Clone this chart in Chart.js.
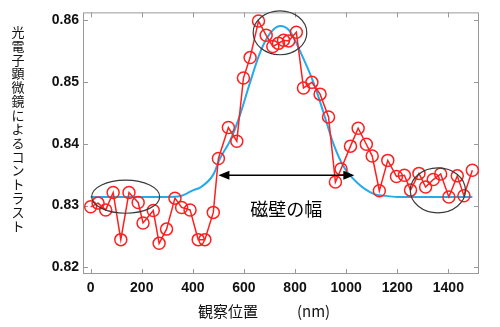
<!DOCTYPE html>
<html>
<head>
<meta charset="utf-8">
<script src="https://cdn.jsdelivr.net/npm/chart.js@4.4.0/dist/chart.umd.min.js"></script>
<style>
    html, body { margin: 0; padding: 0; background: #fff; }
    canvas { display: block; }
</style>
</head>
<body>
<canvas id="profileChart" width="500" height="327"></canvas>
<script>
// Measured contrast along the line scan (red circles)
const scanPos = [0, 29, 59, 88, 118, 150, 186, 205, 245, 268, 297, 330, 356, 389, 421, 447, 480, 500, 539, 572,
    598, 624, 657, 687, 713, 735, 755, 775, 805, 833, 866, 898, 931, 958, 980, 1017, 1047, 1079, 1102, 1130,
    1163, 1197, 1228, 1252, 1285, 1311, 1341, 1370, 1402, 1435, 1461, 1494];
const scanContrast = [0.8298, 0.8304, 0.8293, 0.8321, 0.8245, 0.8321, 0.8305, 0.8272, 0.8292, 0.8239, 0.8262, 0.8312,
    0.8297, 0.8293, 0.8245, 0.8245, 0.8289, 0.8376, 0.8426, 0.8404, 0.8506, 0.8539, 0.8598, 0.8575, 0.8557,
    0.8562, 0.8567, 0.8566, 0.8580, 0.8490, 0.8499, 0.8480, 0.8443, 0.8338, 0.8359, 0.8396, 0.8425, 0.8399,
    0.8380, 0.8324, 0.8373, 0.8347, 0.8349, 0.8325, 0.8352, 0.8330, 0.8342, 0.8351, 0.8314, 0.8348, 0.8316, 0.8357];

// Fitted wall profile (blue curve)
const fitPos = [0, 100, 200, 300, 349, 402, 428, 480, 506, 546, 585, 624, 663, 702, 742, 781, 820, 872, 910, 950,
    990, 1043, 1108, 1150, 1200, 1300, 1400, 1494];
const fitContrast = [0.8314, 0.8314, 0.8314, 0.8314, 0.8315, 0.8325, 0.8329, 0.8350, 0.8376, 0.8405, 0.8447, 0.8499,
    0.8547, 0.8578, 0.8590, 0.8581, 0.8549, 0.8499, 0.8452, 0.8400, 0.8363, 0.8337, 0.8319, 0.8316, 0.8314,
    0.8314, 0.8314, 0.8314];

const xTickValues = [0, 200, 400, 600, 800, 1000, 1200, 1400];
const yTickValues = [0.82, 0.83, 0.84, 0.85, 0.86];

const yTitle = '光電子顕微鏡によるコントラスト';
const xTitle = '観察位置';
const xUnit = '(nm)';
const wallLabel = '磁壁の幅';

// ellipses drawn round the interesting spots (data units)
const marks = [
    { x: 137, y: 0.83144, rx: 133, ry: 0.00268 },
    { x: 741, y: 0.8579, rx: 105, ry: 0.00354 },
    { x: 1359, y: 0.83246, rx: 108, ry: 0.00364 }
];
const wallArrow = { from: 500, to: 1032, y: 0.8349 };

const tickFont = { family: '"Liberation Sans", Arial, sans-serif', size: 14, weight: 'bold' };
const cjkFont = '"Noto Sans CJK JP", "Noto Sans", sans-serif';

const decorations = {
    id: 'decorations',
    beforeDatasetsDraw(chart) {
        const { ctx, chartArea: a, scales: { x, y } } = chart;
        ctx.save();
        ctx.strokeStyle = '#999';
        ctx.lineWidth = 1;
        ctx.strokeRect(a.left + 0.5, a.top + 0.5, a.right - a.left - 1, a.bottom - a.top - 1);
        ctx.beginPath();
        xTickValues.forEach(v => {
            const px = Math.round(x.getPixelForValue(v)) + 0.5;
            ctx.moveTo(px, a.bottom); ctx.lineTo(px, a.bottom - 5);
            ctx.moveTo(px, a.top); ctx.lineTo(px, a.top + 5);
        });
        yTickValues.forEach(v => {
            const py = Math.round(y.getPixelForValue(v)) + 0.5;
            ctx.moveTo(a.left, py); ctx.lineTo(a.left + 5, py);
            ctx.moveTo(a.right, py); ctx.lineTo(a.right - 5, py);
        });
        ctx.stroke();
        ctx.restore();
    },
    afterDatasetsDraw(chart) {
        const { ctx, scales: { x, y } } = chart;
        ctx.save();
        // ellipses
        ctx.strokeStyle = '#3a3a3a';
        ctx.lineWidth = 1.2;
        marks.forEach(m => {
            const cx = x.getPixelForValue(m.x);
            const cy = y.getPixelForValue(m.y);
            const rx = Math.abs(x.getPixelForValue(m.x + m.rx) - cx);
            const ry = Math.abs(y.getPixelForValue(m.y + m.ry) - cy);
            ctx.beginPath();
            ctx.ellipse(cx, cy, rx, ry, 0, 0, Math.PI * 2);
            ctx.stroke();
        });
        // double headed arrow for the wall width
        const x1 = x.getPixelForValue(wallArrow.from);
        const x2 = x.getPixelForValue(wallArrow.to);
        const ay = y.getPixelForValue(wallArrow.y);
        ctx.strokeStyle = '#000';
        ctx.fillStyle = '#000';
        ctx.lineWidth = 1.5;
        ctx.beginPath();
        ctx.moveTo(x1 + 8, ay); ctx.lineTo(x2 - 8, ay);
        ctx.stroke();
        ctx.beginPath();
        ctx.moveTo(x1, ay); ctx.lineTo(x1 + 11, ay - 4.5); ctx.lineTo(x1 + 11, ay + 4.5); ctx.closePath();
        ctx.moveTo(x2, ay); ctx.lineTo(x2 - 11, ay - 4.5); ctx.lineTo(x2 - 11, ay + 4.5); ctx.closePath();
        ctx.fill();
        ctx.font = '18px ' + cjkFont;
        ctx.textAlign = 'center';
        ctx.textBaseline = 'middle';
        ctx.fillText(wallLabel, (x1 + x2) / 2, ay + 34);
        ctx.restore();
    },
    afterDraw(chart) {
        const { ctx, chartArea: a } = chart;
        ctx.save();
        ctx.fillStyle = '#111';
        ctx.textAlign = 'center';
        ctx.textBaseline = 'middle';
        // y title, one character per line
        ctx.font = '13px ' + cjkFont;
        Array.from(yTitle).forEach((ch, i) => {
            ctx.fillText(ch, 18, 32 + i * 13.85);
        });
        // x title
        ctx.font = '15px ' + cjkFont;
        ctx.textAlign = 'left';
        ctx.fillText(xTitle, 198, a.bottom + 37);
        ctx.fillText(xUnit, 297, a.bottom + 37);
        ctx.restore();
    }
};

const ctx = document.getElementById('profileChart').getContext('2d');
new Chart(ctx, {
    type: 'scatter',
    data: {
        datasets: [
            {
                label: 'measured',
                data: scanPos.map((p, i) => ({ x: p, y: scanContrast[i] })),
                showLine: true,
                borderColor: '#ff1f1f',
                borderWidth: 1.5,
                pointRadius: 6,
                pointHoverRadius: 6,
                pointBorderWidth: 1.5,
                pointBorderColor: '#ff1f1f',
                pointBackgroundColor: 'rgba(0,0,0,0)',
                tension: 0
            },
            {
                label: 'fit',
                data: fitPos.map((p, i) => ({ x: p, y: fitContrast[i] })),
                showLine: true,
                borderColor: '#25aaea',
                borderWidth: 2,
                pointRadius: 0,
                cubicInterpolationMode: 'monotone'
            }
        ]
    },
    options: {
        responsive: false,
        devicePixelRatio: 1,
        animation: false,
        layout: { padding: { top: 5, right: 21, left: 0, bottom: 0 } },
        plugins: {
            legend: { display: false },
            tooltip: { enabled: false }
        },
        scales: {
            x: {
                type: 'linear',
                min: -30,
                max: 1520,
                afterFit: scale => { scale.height = 53; },
                afterBuildTicks: scale => { scale.ticks = xTickValues.map(v => ({ value: v })); },
                grid: { display: false, drawTicks: false },
                border: { display: false },
                ticks: {
                    font: tickFont,
                    color: '#111',
                    padding: 6,
                    maxRotation: 0,
                    callback: v => String(v)
                }
            },
            y: {
                type: 'linear',
                min: 0.81895,
                max: 0.8612,
                afterFit: scale => { scale.width = 83; },
                afterBuildTicks: scale => { scale.ticks = yTickValues.map(v => ({ value: v })); },
                grid: { display: false, drawTicks: false },
                border: { display: false },
                ticks: {
                    font: tickFont,
                    color: '#111',
                    padding: 4,
                    callback: v => v.toFixed(2)
                }
            }
        }
    },
    plugins: [decorations]
});
</script>
</body>
</html>
